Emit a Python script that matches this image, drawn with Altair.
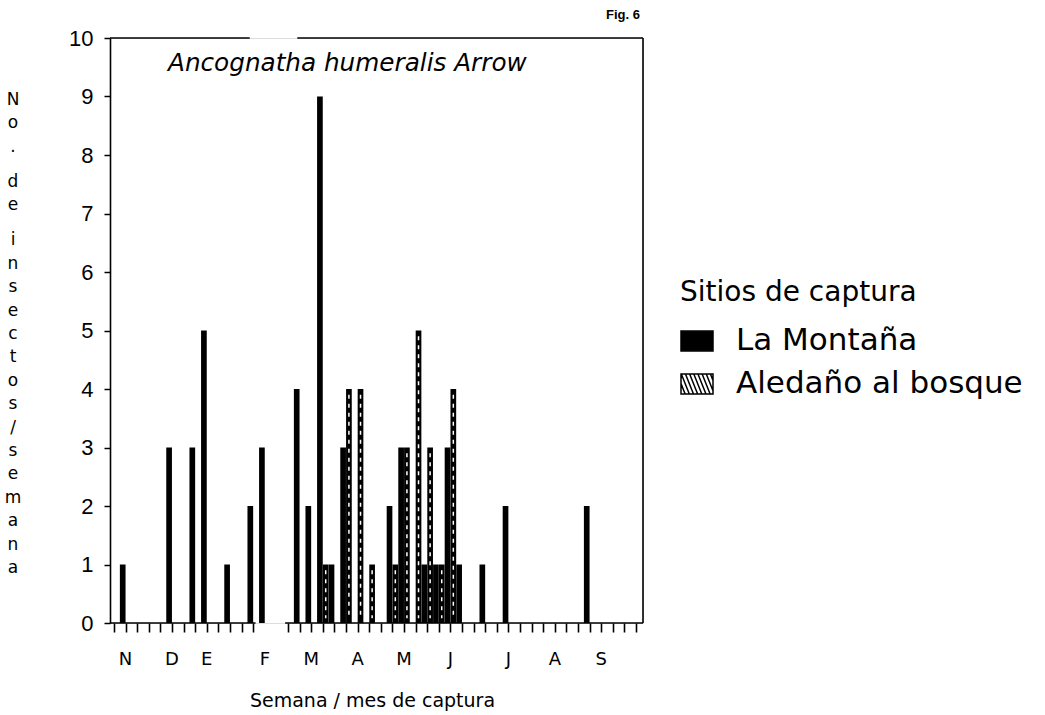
import altair as alt
import pandas as pd

# ---------------------------------------------------------------------------
# Weekly captures of Ancognatha humeralis (week 0 = first week of November)
# ---------------------------------------------------------------------------
sites = ["La Montaña", "Aledaño al bosque"]

montana_weeks = [1, 5, 7, 8, 10, 12, 13, 16, 17, 18, 19, 20, 24, 25, 27, 28, 29, 30, 32, 34, 41]
montana_counts = [1, 3, 3, 5, 1, 2, 3, 4, 2, 9, 1, 3, 2, 3, 1, 1, 3, 1, 1, 2, 2]

bosque_weeks = [18, 20, 21, 22, 24, 25, 26, 27, 28, 29]
bosque_counts = [1, 4, 4, 1, 1, 3, 5, 3, 1, 4]

months = ["N", "D", "E", "F", "M", "A", "M", "J", "J", "A", "S"]
month_weeks = [1, 5, 8, 13, 17, 21, 25, 29, 34, 38, 42]

tick_weeks = list(range(0, 13)) + list(range(15, 46))
y_ticks = list(range(0, 11))

species = "Ancognatha humeralis Arrow"
fig_label = "Fig. 6"
x_title = "Semana / mes de captura"
y_title = "No. de insectos/semana"

# ---------------------------------------------------------------------------
# Layout
# ---------------------------------------------------------------------------
W, H = 533, 585
x_min, x_max = -0.345, 45.6
break_bottom = (12.2, 14.75)   # gap in the time axis
break_top = (11.7, 15.8)
bar_half = 0.245
site_offset = {sites[0]: -0.25, sites[1]: 0.25}

FONT = "DejaVu Sans"

rows = [{"site": sites[0], "week": w, "count": c} for w, c in zip(montana_weeks, montana_counts)]
rows += [{"site": sites[1], "week": w, "count": c} for w, c in zip(bosque_weeks, bosque_counts)]
bars = pd.DataFrame(rows)
bars["pos"] = bars["week"] + bars["site"].map(site_offset)
bars["x0"] = bars["pos"] - bar_half
bars["x1"] = bars["pos"] + bar_half
bars["top"] = bars["count"] - 0.1
bars["zero"] = 0
bars["dash_start"] = 0.08

xs = alt.Scale(domain=[x_min, x_max], nice=False, zero=False)
ys = alt.Scale(domain=[0, 10], nice=False, zero=True)

x_axis = alt.Axis(
    values=tick_weeks, grid=False, domain=False, labels=False,
    ticks=True, tickColor="black", tickWidth=1.6, tickSize=9,
    title=x_title, titleFont=FONT, titleFontSize=19, titleFontWeight="normal",
    titleColor="black", titleX=262, titleY=83, titleAlign="center",
    titleBaseline="alphabetic",
)
y_axis = alt.Axis(
    values=y_ticks, grid=False, domain=True, domainColor="black", domainWidth=1.6,
    ticks=True, tickColor="black", tickWidth=1.5, tickSize=6,
    labelFont="Liberation Sans", labelFontSize=22, labelColor="black", labelPadding=11,
    title=None,
)

# frame: broken top and bottom edges, right edge
frame = pd.DataFrame({
    "x0": [x_min, break_top[1], x_min, break_bottom[1]],
    "x1": [break_top[0], x_max, break_bottom[0], x_max],
    "y": [10, 10, 0, 0],
})
frame_layer = alt.Chart(frame).mark_rule(color="black", strokeWidth=1.6).encode(
    x=alt.X("x0:Q", scale=xs, axis=x_axis), x2="x1:Q",
    y=alt.Y("y:Q", scale=ys, axis=y_axis),
)
right_edge = alt.Chart(pd.DataFrame({"x": [x_max], "y0": [0], "y1": [10]})).mark_rule(
    color="black", strokeWidth=1.6
).encode(
    x=alt.X("x:Q", scale=xs, axis=x_axis),
    y=alt.Y("y0:Q", scale=ys, axis=y_axis), y2="y1:Q",
)

bar_layer = alt.Chart(bars).mark_rect(color="black").encode(
    x=alt.X("x0:Q", scale=xs, axis=x_axis), x2="x1:Q",
    y=alt.Y("count:Q", scale=ys, axis=y_axis), y2="zero:Q",
)

# hatched series: white dashes running up the black bars
hatch_layer = alt.Chart(bars).transform_filter(
    alt.datum.site == sites[1]
).mark_rule(color="white", strokeWidth=1.5, strokeDash=[4, 5]).encode(
    x=alt.X("pos:Q", scale=xs, axis=x_axis),
    y=alt.Y("top:Q", scale=ys, axis=y_axis), y2="dash_start:Q",
)

month_layer = alt.Chart(pd.DataFrame({"m": months, "week": month_weeks})).mark_text(
    font=FONT, fontSize=18, color="black", baseline="middle"
).encode(x=alt.X("week:Q", scale=xs, axis=x_axis), y=alt.value(622), text="m:N")

title_layer = alt.Chart(pd.DataFrame({"t": [species]})).mark_text(
    font=FONT, fontSize=24.7, fontStyle="italic", color="black", align="left", baseline="middle"
).encode(x=alt.value(58), y=alt.value(26), text="t:N")

fig_layer = alt.Chart(pd.DataFrame({"t": [fig_label]})).mark_text(
    font="Liberation Sans", fontSize=13, fontWeight="bold", color="black",
    align="right", baseline="middle"
).encode(x=alt.value(530), y=alt.value(-23), text="t:N")

# legend swatches: solid block and a box with diagonal hatching
hw, hh = 1.0, 0.62
solid_swatch = f"M{-hw},{-hh}L{hw},{-hh}L{hw},{hh}L{-hw},{hh}Z"
segs = []
dx, step = 0.5, 0.26
s = -hw - dx
while s < hw:
    t0 = max(0.0, (-hw - s) / dx)
    t1 = min(1.0, (hw - s) / dx)
    if t1 - t0 > 1e-6:
        segs.append(
            f"M{s + dx * t0:.3f},{-hh + 2 * hh * t0:.3f}L{s + dx * t1:.3f},{-hh + 2 * hh * t1:.3f}"
        )
    s += step
hatch_swatch = solid_swatch + "".join(segs)

legend = alt.Legend(
    title="Sitios de captura", orient="none", legendX=570, legendY=241,
    titleFont=FONT, titleFontSize=28, titleFontWeight="normal", titleColor="black",
    titlePadding=17, titleLimit=500, labelFont=FONT, labelFontSize=31, labelColor="black",
    labelLimit=500, labelOffset=22, rowPadding=11, symbolSize=1024,
    symbolStrokeWidth=1.5, symbolOpacity=1, padding=0,
)
legend_layer = alt.Chart(pd.DataFrame({"site": sites})).transform_filter("false").mark_point(
    filled=True, opacity=1, strokeWidth=1.5
).encode(
    shape=alt.Shape("site:N", scale=alt.Scale(domain=sites, range=[solid_swatch, hatch_swatch]), legend=legend),
    fill=alt.Fill("site:N", scale=alt.Scale(domain=sites, range=["black", "white"]), legend=legend),
    stroke=alt.Stroke("site:N", scale=alt.Scale(domain=sites, range=["black", "black"]), legend=legend),
)

plot = alt.layer(
    frame_layer, right_edge, bar_layer, hatch_layer, month_layer,
    title_layer, fig_layer, legend_layer,
)

# y-axis title written letter by letter down the left margin;
# a word break takes half a line
letters, slots, slot = [], [], 0.0
for ch in y_title:
    if ch == " ":
        slot += 0.5
        continue
    letters.append(ch)
    slots.append(slot)
    slot += 1
y_title_layer = alt.Chart(pd.DataFrame({"ch": letters, "slot": slots})).mark_text(
    font=FONT, fontSize=17, color="black", baseline="middle", align="center"
).encode(
    x=alt.value(-97),
    y=alt.Y("slot:Q", scale=alt.Scale(domain=[0, max(slots)], range=[62, 530]), axis=None),
    text="ch:N",
)

chart = alt.layer(plot, y_title_layer).resolve_scale(y="independent").properties(
    width=W, height=H,
    padding={"left": 110, "top": 38, "right": 1045 - 110 - W, "bottom": 715 - 38 - H},
    autosize=alt.AutoSizeParams(type="none"),
).configure_view(stroke=None).configure(background="white")

chart.save("out.html", embed_options={"renderer": "svg", "actions": False})
